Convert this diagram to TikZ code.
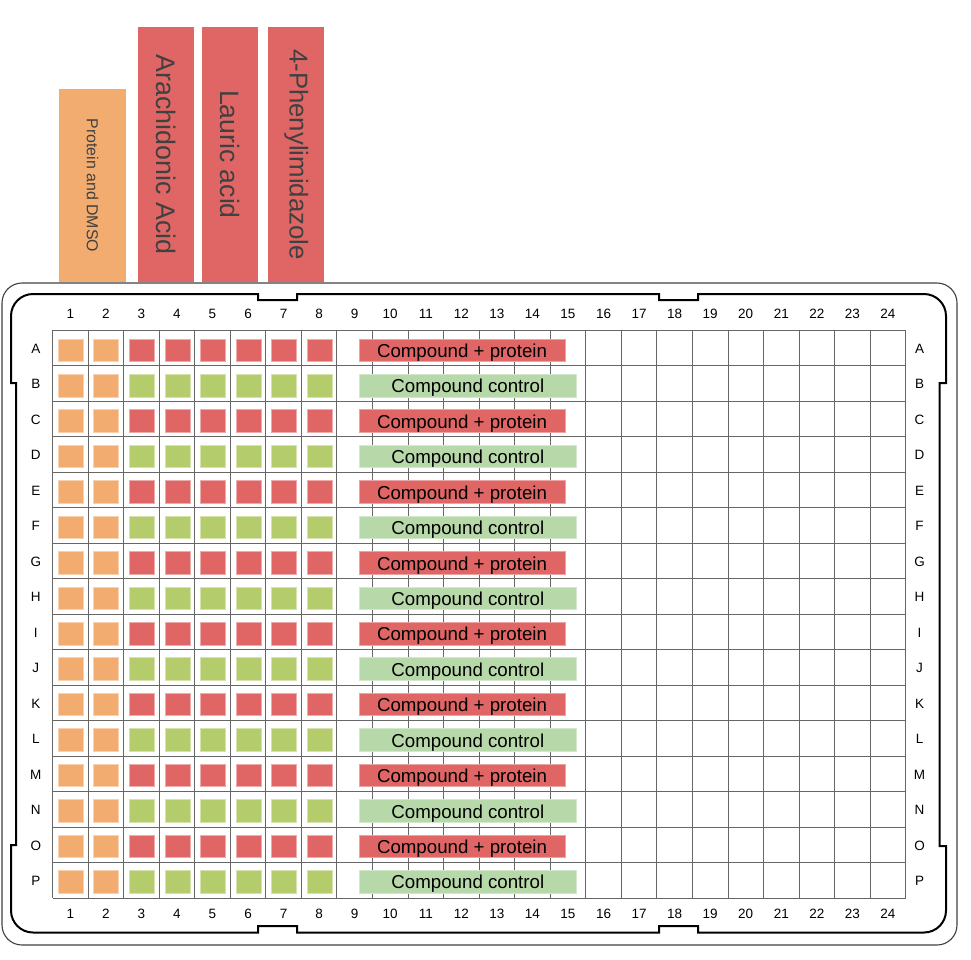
\documentclass[tikz,border=0pt]{standalone}
\usepackage{fontspec}
\setmainfont{Liberation Sans}
\definecolor{wOrange}{HTML}{F2AC70}
\definecolor{wRed}{HTML}{E06666}
\definecolor{wGreen}{HTML}{B5CC6C}
\definecolor{wLGreen}{HTML}{B7D8A8}
\begin{document}
\begin{tikzpicture}[x=1pt,y=-1pt,
  well/.style={draw=#1!55!white, line width=0.7pt, fill=#1, minimum width=25pt, minimum height=22.5pt, inner sep=0pt, outer sep=0pt},
  bar/.style={draw=#1!60!white, line width=0.7pt, fill=#1, minimum height=22.5pt, inner sep=0pt, text height=14.6pt, text depth=0pt, font=\fontsize{18.7}{20}\selectfont, text=black},
  lbl/.style={font=\fontsize{13.5}{15}\selectfont, text=black, inner sep=0pt},
  hdr/.style={fill=#1, rotate=-90, inner sep=0pt, text=black!75},
  gridline/.style={draw=black!60, line width=0.9pt},
  plateouter/.style={draw=black!75, line width=1.1pt},
  plateinner/.style={draw=black, line width=2pt, line join=miter}
]
\useasboundingbox (0,0) rectangle (971,959);

% header boxes
\node[hdr=wOrange, minimum width=192.7pt, minimum height=66.7pt, font=\fontsize{15.9}{18}\selectfont] (hProt) at (92.65,185.35) {Protein and DMSO};
\node[hdr=wRed, minimum width=254.4pt, minimum height=55.7pt, font=\fontsize{26.8}{30}\selectfont] (hArach) at (166.2,154.5) {Arachidonic Acid};
\node[hdr=wRed, minimum width=254.4pt, minimum height=56pt, font=\fontsize{26.6}{30}\selectfont] (hLaur) at (230.3,154.5) {Lauric acid};
\node[hdr=wRed, minimum width=254.4pt, minimum height=55.7pt, font=\fontsize{25.8}{30}\selectfont] (hPhen) at (296.2,154.5) {4-Phenylimidazole};

% plate outline
\draw[plateouter, rounded corners=20pt] (2,283) rectangle (957,945);
\draw[plateinner] (120,294) -- (258,294) -- (258,300) -- (297,300) -- (297,294)
  -- (659,294) -- (659,300) -- (698,300) -- (698,294) -- (800,294)
  [rounded corners=22pt] -- (946,294) -- (946,340) [sharp corners]
  -- (946,383) -- (939.5,383) -- (939.5,846) -- (946,846) -- (946,880)
  [rounded corners=22pt] -- (946,932.5) -- (850,932.5) [sharp corners]
  -- (698,932.5) -- (698,926) -- (659,926) -- (659,932.5)
  -- (297,932.5) -- (297,926) -- (258,926) -- (258,932.5) -- (120,932.5)
  [rounded corners=22pt] -- (11,932.5) -- (11,880) [sharp corners]
  -- (11,845) -- (16,845) -- (16,383) -- (11,383) -- (11,340)
  [rounded corners=22pt] -- (11,294) -- (60,294) [sharp corners] -- cycle;

% grid
\foreach \k in {0,...,24} \draw[gridline] ({52.5+\k*35.55},330) -- ({52.5+\k*35.55},898.3);
\foreach \k in {0,...,16} \draw[gridline] (52.5,{330+\k*35.52}) -- (905.7,{330+\k*35.52});

% wells
\foreach \i in {1,...,16} {
  \foreach \j in {1,...,8} {
    \pgfmathsetmacro{\wx}{53+(\j-0.5)*35.55}
    \pgfmathsetmacro{\wy}{332.5+(\i-0.5)*35.43}
    \ifnum\j<3 \def\wc{wOrange}\else\ifodd\i \def\wc{wRed}\else\def\wc{wGreen}\fi\fi
    \node[well=\wc] (w-\i-\j) at (\wx,\wy) {};
  }
}

% compound bars
\foreach \i in {1,...,16} {
  \pgfmathsetmacro{\wy}{332.5+(\i-0.5)*35.43}
  \ifodd\i
    \node[bar=wRed, minimum width=206pt] (bar-\i) at (462,\wy) {Compound + protein};
  \else
    \node[bar=wLGreen, minimum width=217.7pt] (bar-\i) at (467.85,\wy) {Compound control};
  \fi
}

% column labels
\foreach \c in {1,...,24} {
  \pgfmathsetmacro{\cx}{52.5+(\c-0.5)*35.55}
  \node[lbl] (ct-\c) at (\cx,314) {\c};
  \node[lbl] (cb-\c) at (\cx,913.7) {\c};
}
% row labels
\foreach \r [count=\i] in {A,B,C,D,E,F,G,H,I,J,K,L,M,N,O,P} {
  \pgfmathsetmacro{\ry}{330.7+(\i-0.5)*35.52}
  \node[lbl] (rl-\i) at (35.8,\ry) {\r};
  \node[lbl] (rr-\i) at (919.5,\ry) {\r};
}
\end{tikzpicture}
\end{document}
